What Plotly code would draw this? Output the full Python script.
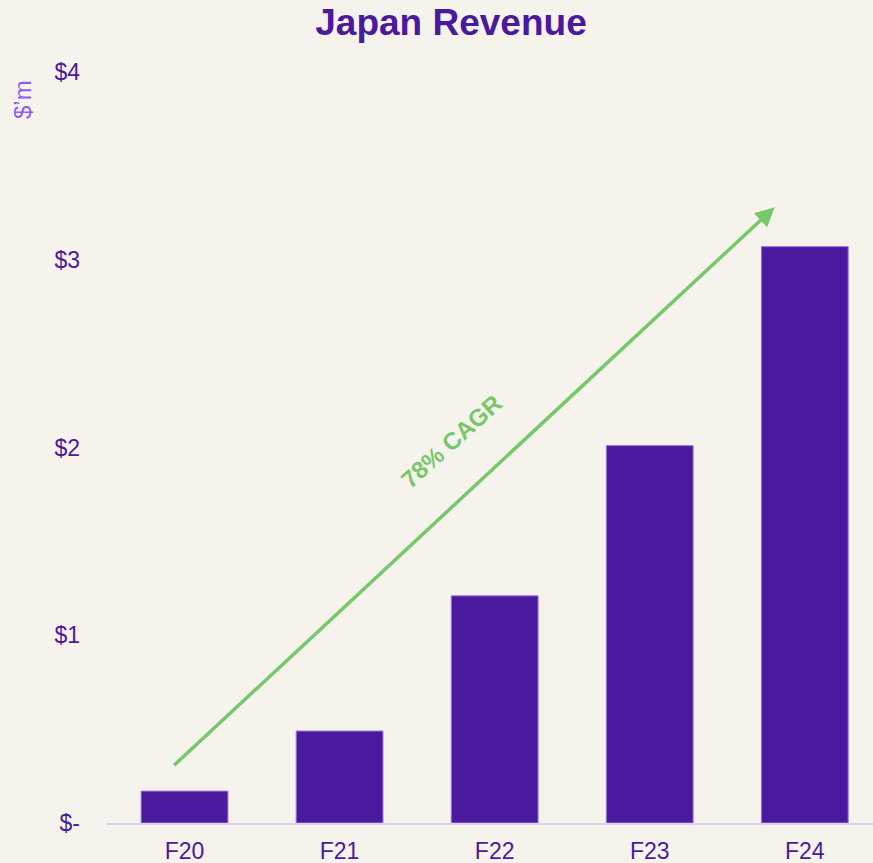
import plotly.graph_objects as go

categories = ["F20", "F21", "F22", "F23", "F24"]
revenue = [0.17, 0.49, 1.21, 2.01, 3.07]
y_tickvals = [0, 1, 2, 3, 4]
y_ticktext = ["$-", "$1", "$2", "$3", "$4"]
cagr_label = "78% CAGR"

# arrow annotation endpoints (data coords)
arrow_start = (-0.077, 0.30)
arrow_end = (3.806, 3.28)
label_pos = (1.72, 2.03)

BG = "#F6F3ED"
PURPLE = "#4A1A9E"
LIGHT = "#8B5CF6"
GREEN = "#77C86A"
FONT = "Liberation Sans, Arial, sans-serif"

xs = list(range(len(categories)))

fig = go.Figure()
fig.add_trace(go.Bar(
    x=xs, y=revenue, width=0.56,
    marker=dict(color=PURPLE, line=dict(color="#9C7BE0", width=1)),
    hoverinfo="skip",
))

fig.add_annotation(
    x=arrow_end[0], y=arrow_end[1], ax=arrow_start[0], ay=arrow_start[1],
    xref="x", yref="y", axref="x", ayref="y",
    showarrow=True, arrowhead=2, arrowsize=1.1, arrowwidth=3.5,
    arrowcolor=GREEN, text="",
)
fig.add_annotation(
    x=label_pos[0], y=label_pos[1], xref="x", yref="y",
    text="<b>" + cagr_label + "</b>", showarrow=False, textangle=-42,
    font=dict(family=FONT, size=24, color=GREEN),
)
fig.add_annotation(
    x=(22 - 107) / (873 - 107), y=1 - (100 - 72) / (823 - 72),
    xref="paper", yref="paper", xanchor="center", yanchor="middle",
    text="$’m", showarrow=False, textangle=-90,
    font=dict(family=FONT, size=24, color=LIGHT),
)

fig.update_layout(
    width=873, height=863,
    paper_bgcolor=BG, plot_bgcolor=BG,
    margin=dict(l=107, r=0, t=72, b=40),
    showlegend=False,
    title=dict(
        text="<b>Japan Revenue</b>",
        font=dict(family=FONT, size=37, color=PURPLE),
        xref="container", yref="container",
        x=451 / 873, y=1 - 22 / 863, xanchor="center", yanchor="middle",
    ),
    font=dict(family=FONT, size=23, color=PURPLE),
    xaxis=dict(
        tickmode="array", tickvals=xs, ticktext=categories,
        range=[-0.5, 4.44], showgrid=False, zeroline=False,
        showline=True, linecolor="#DCD0F2", linewidth=2,
        ticks="", tickfont=dict(size=23, color=PURPLE),
        ticklabelstandoff=6,
    ),
    yaxis=dict(
        tickmode="array", tickvals=y_tickvals, ticktext=y_ticktext,
        range=[0, 4], showgrid=False, zeroline=False, showline=False,
        ticks="", tickfont=dict(size=23, color=PURPLE),
        ticklabelstandoff=26,
    ),
)

fig.write_html(
    "out.html",
    config={"displayModeBar": False},
    post_script="document.body.style.margin='0';",
)
